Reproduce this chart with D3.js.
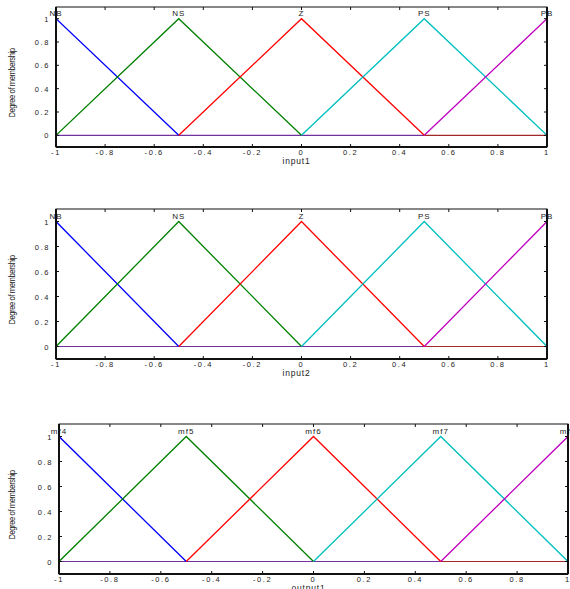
<!DOCTYPE html>
<html>
<head>
<meta charset="utf-8">
<script src="https://cdn.jsdelivr.net/npm/d3@7"></script>
<style>
  body { margin: 0; background: #fff; }
  svg { display: block; }
  text { font-family: "Liberation Sans", Arial, sans-serif; fill: #222; }
</style>
</head>
<body>
<div id="chart"></div>
<script>
// membership function names
const inputNames = ['NB', 'NS', 'Z', 'PS', 'PB']
const outputNames = ['mf4', 'mf5', 'mf6', 'mf7', 'mf8']

// triangular mf params [a, b, c]
const mfParams = [
  [-1.5, -1, -0.5],
  [-1, -0.5, 0],
  [-0.5, 0, 0.5],
  [0, 0.5, 1],
  [0.5, 1, 1.5]
]
const mfColors = ['#0000ff', '#008000', '#ff0000', '#00bfbf', '#bf00bf']

const xTicks = [-1, -0.8, -0.6, -0.4, -0.2, 0, 0.2, 0.4, 0.6, 0.8, 1]
const yTicks = [0, 0.2, 0.4, 0.6, 0.8, 1]

const panels = [
  { names: inputNames, label: 'input1', left: 56, right: 547, top: 7, bottom: 147 },
  { names: inputNames, label: 'input2', left: 56, right: 547, top: 209, bottom: 359 },
  { names: outputNames, label: 'output1', left: 59, right: 568, top: 424, bottom: 574 }
]

// matlab-ish tick text, plain hyphen minus
const fmt = t => (t === 0 || Math.abs(t) === 1 ? String(t) : t.toFixed(1))

const W = 570, H = 589
const svg = d3.select('#chart').append('svg').attr('width', W).attr('height', H)

panels.forEach(p => {
  const x = d3.scaleLinear().domain([-1, 1]).range([p.left, p.right])
  const y = d3.scaleLinear().domain([-0.1, 1.1]).range([p.bottom, p.top])
  const g = svg.append('g')

  // zero line (overlapping mf tails)
  g.append('line')
    .attr('x1', x(-1)).attr('x2', x(0.5)).attr('y1', y(0)).attr('y2', y(0))
    .attr('stroke', '#7030a0').attr('stroke-width', 1.2)
  g.append('line')
    .attr('x1', x(0.5)).attr('x2', x(1)).attr('y1', y(0)).attr('y2', y(0))
    .attr('stroke', '#a02828').attr('stroke-width', 1.2)

  // clip mfs to the x range
  const clipId = 'clip-' + p.label
  svg.append('clipPath').attr('id', clipId)
    .append('rect').attr('x', x(-1)).attr('y', p.top).attr('width', x(1) - x(-1)).attr('height', p.bottom - p.top)

  const line = d3.line().x(d => x(d[0])).y(d => y(d[1]))
  mfParams.forEach((m, i) => {
    g.append('path')
      .attr('clip-path', `url(#${clipId})`)
      .attr('d', line([[m[0], 0], [m[1], 1], [m[2], 0]]))
      .attr('fill', 'none')
      .attr('stroke', mfColors[i])
      .attr('stroke-width', 1.3)
  })

  // mf names over peaks
  mfParams.forEach((m, i) => {
    g.append('text')
      .attr('x', x(m[1])).attr('y', y(1) - 3)
      .attr('text-anchor', 'middle')
      .attr('font-size', 8)
      .attr('letter-spacing', 1)
      .text(p.names[i])
  })

  // frame
  g.append('rect')
    .attr('x', p.left).attr('y', p.top)
    .attr('width', p.right - p.left).attr('height', p.bottom - p.top)
    .attr('fill', 'none').attr('stroke', '#111').attr('stroke-width', 1)
  g.append('line').attr('x1', p.left).attr('x2', p.left).attr('y1', p.top).attr('y2', p.bottom)
    .attr('stroke', '#111').attr('stroke-width', 2)
  g.append('line').attr('x1', p.left).attr('x2', p.right).attr('y1', p.bottom).attr('y2', p.bottom)
    .attr('stroke', '#111').attr('stroke-width', 2)
  g.append('line').attr('x1', p.right).attr('x2', p.right).attr('y1', p.top).attr('y2', p.bottom)
    .attr('stroke', '#111').attr('stroke-width', 2)

  // ticks
  xTicks.forEach(t => {
    g.append('line').attr('x1', x(t)).attr('x2', x(t)).attr('y1', p.bottom).attr('y2', p.bottom - 3)
      .attr('stroke', '#111')
    g.append('line').attr('x1', x(t)).attr('x2', x(t)).attr('y1', p.top).attr('y2', p.top + 3)
      .attr('stroke', '#111')
    g.append('text')
      .attr('x', x(t)).attr('y', p.bottom + 8)
      .attr('text-anchor', 'middle')
      .attr('font-size', 7.5)
      .attr('letter-spacing', 1.6)
      .text(fmt(t))
  })
  yTicks.forEach(t => {
    g.append('line').attr('x1', p.left).attr('x2', p.left + 3).attr('y1', y(t)).attr('y2', y(t))
      .attr('stroke', '#111')
    g.append('line').attr('x1', p.right).attr('x2', p.right - 3).attr('y1', y(t)).attr('y2', y(t))
      .attr('stroke', '#111')
    g.append('text')
      .attr('x', p.left - 6).attr('y', y(t) + 3)
      .attr('text-anchor', 'end')
      .attr('font-size', 7.5)
      .attr('letter-spacing', 1.6)
      .text(fmt(t))
  })

  // axis labels
  g.append('text')
    .attr('x', (p.left + p.right) / 2 - 5).attr('y', p.bottom + 17)
    .attr('text-anchor', 'middle')
    .attr('font-size', 8.5)
    .attr('letter-spacing', 0.8)
    .text(p.label)
  g.append('text')
    .attr('transform', `translate(${15},${(p.top + p.bottom) / 2 + 6}) rotate(-90) scale(0.8,1)`)
    .attr('text-anchor', 'middle')
    .attr('font-size', 9.5)
    .attr('font-family', '"DejaVu Sans Condensed", "Liberation Sans Narrow", sans-serif')
    .attr('letter-spacing', -0.5)
    .text('Degree of membership')
})
</script>
</body>
</html>
